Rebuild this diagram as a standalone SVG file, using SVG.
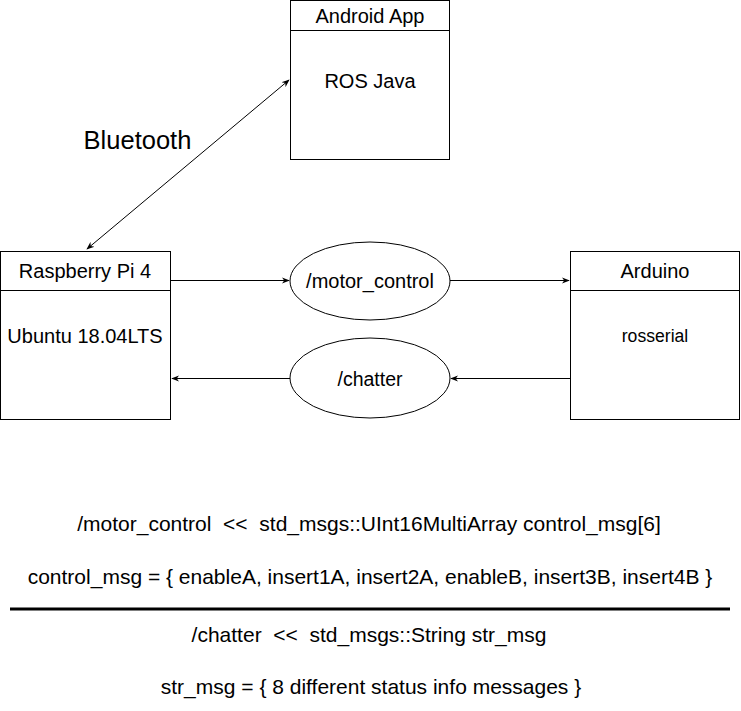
<svg xmlns="http://www.w3.org/2000/svg" width="741" height="711" viewBox="0 0 741 711">
<defs>
<marker id="ah" viewBox="0 0 10 10" refX="9" refY="5" markerWidth="8" markerHeight="8" orient="auto-start-reverse" markerUnits="userSpaceOnUse">
<path d="M0,1 L10,5 L0,9 L3,5 Z" fill="#000"/>
</marker>
</defs>
<style>
.box{fill:#fff;stroke:#000;stroke-width:1}
.t{font-family:"Liberation Sans",Arial,sans-serif;fill:#000;text-anchor:middle}
.c{stroke:#000;stroke-width:1;fill:none}
</style>
<rect width="741" height="711" fill="#fff"/>
<g id="android">
<rect class="box" x="290.5" y="0.5" width="159" height="159"/>
<line class="c" x1="290.5" y1="30.5" x2="449.5" y2="30.5"/>
<text class="t" x="370" y="23" font-size="20">Android App</text>
<text class="t" x="370" y="88" font-size="20">ROS Java</text>
</g>
<g id="raspberry">
<rect class="box" x="0.5" y="251.5" width="170" height="168"/>
<line class="c" x1="0.5" y1="290.5" x2="170.5" y2="290.5"/>
<text class="t" x="85" y="278" font-size="20">Raspberry Pi 4</text>
<text class="t" x="85" y="343" font-size="20">Ubuntu 18.04LTS</text>
</g>
<g id="arduino">
<rect class="box" x="570.5" y="251.5" width="169" height="168"/>
<line class="c" x1="570.5" y1="290.5" x2="739.5" y2="290.5"/>
<text class="t" x="655" y="278" font-size="20">Arduino</text>
<text class="t" x="655" y="342" font-size="17.6">rosserial</text>
</g>
<g id="motor_control">
<ellipse class="box" cx="370" cy="281" rx="80" ry="39"/>
<text class="t" x="370" y="288" font-size="20">/motor_control</text>
</g>
<g id="chatter">
<ellipse class="box" cx="370" cy="378" rx="80" ry="40"/>
<text class="t" x="370" y="386" font-size="19.5">/chatter</text>
</g>
<g id="connectors">
<line class="c" x1="87" y1="249" x2="289" y2="80" marker-start="url(#ah)" marker-end="url(#ah)"/>
<line class="c" x1="170.5" y1="280.5" x2="289" y2="280.5" marker-end="url(#ah)"/>
<line class="c" x1="450" y1="280.5" x2="569" y2="280.5" marker-end="url(#ah)"/>
<line class="c" x1="570" y1="378.5" x2="451" y2="378.5" marker-end="url(#ah)"/>
<line class="c" x1="290" y1="378.5" x2="172" y2="378.5" marker-end="url(#ah)"/>
</g>
<text class="t" x="137.5" y="149" font-size="25.5">Bluetooth</text>
<g id="legend">
<text class="t" x="369" y="531" font-size="21" xml:space="preserve">/motor_control  &lt;&lt;  std_msgs::UInt16MultiArray control_msg[6]</text>
<text class="t" x="370" y="584" font-size="21">control_msg = { enableA, insert1A, insert2A, enableB, insert3B, insert4B }</text>
<line x1="10" y1="609" x2="730" y2="609" stroke="#000" stroke-width="3"/>
<text class="t" x="369" y="642" font-size="21" xml:space="preserve">/chatter  &lt;&lt;  std_msgs::String str_msg</text>
<text class="t" x="371" y="694" font-size="21">str_msg = { 8 different status info messages }</text>
</g>
</svg>
